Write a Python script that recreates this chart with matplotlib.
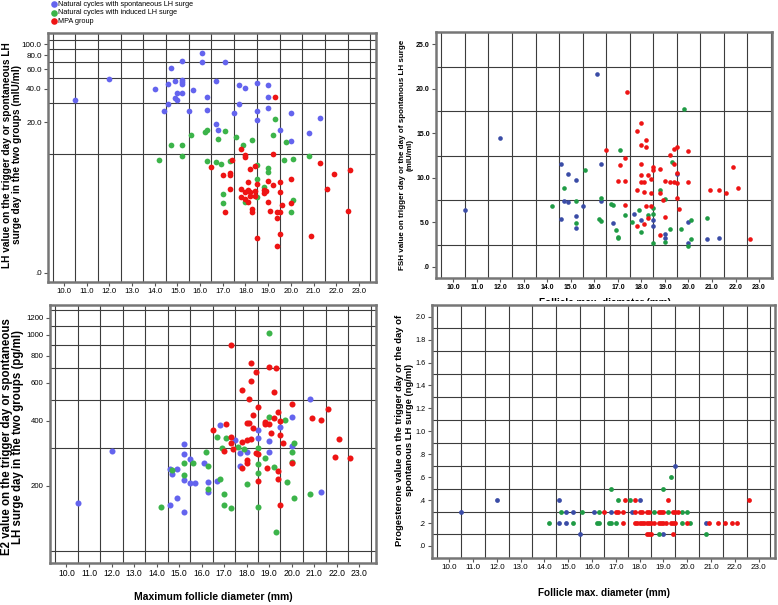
import numpy as np
import matplotlib
matplotlib.use("Agg")
import matplotlib.pyplot as plt
from matplotlib.patches import Rectangle
from matplotlib.ticker import NullFormatter

plt.rcParams['font.family'] = ['Liberation Sans', 'DejaVu Sans']

# ---- data ----
GROUPS = ["Natural cycles with spontaneous LH surge",
          "Natural cycles with induced LH surge",
          "MPA group"]

# LH (mIU/ml)
lh_blue_x = [10.5, 12.0, 14.0, 14.4, 14.6, 14.6, 14.7, 14.9, 14.9, 15.0, 15.0, 15.2, 15.2, 15.2, 15.2, 15.2, 15.5,
             15.7, 16.1, 16.1, 16.3, 16.3, 16.7, 16.7, 16.8, 17.1, 17.5, 17.7, 17.7, 18.0, 18.5, 18.5, 18.5, 19.0,
             19.0, 19.0, 19.5, 20.0, 20.0, 20.8, 21.3]
lh_blue_y = [32, 49, 40, 25, 44, 29, 62, 47, 33, 32, 37, 37, 44, 46, 48, 71, 25, 39, 84, 70, 34, 26, 47, 19, 17,
             69, 24, 43, 29, 41, 45, 25, 21, 43, 34, 27, 17, 24, 13.4, 15.8, 22]
lh_green_x = [14.7, 15.2, 15.6, 16.2, 16.3, 16.8, 17.1, 17.6, 17.9, 18.3, 19.3, 19.2, 19.8, 15.2, 14.2, 20.8, 16.3,
              16.7, 16.9, 17.3, 19.7, 20.1, 19.0, 19.0, 18.5, 18.8, 18.5, 17.0, 17.0, 18.0, 20.0, 20.1, 18.5]
lh_green_y = [12.1, 12.1, 15.1, 16.1, 16.9, 13.8, 16.5, 14.6, 12.1, 13.6, 21.3, 15.3, 13.0, 9.6, 8.7, 9.6, 8.5,
              8.4, 7.9, 8.5, 8.8, 8.9, 7.3, 6.6, 5.7, 4.6, 3.6, 3.9, 3.1, 3.2, 2.4, 3.3, 7.8]
lh_red_x = [19.3, 17.8, 18.0, 18.0, 17.4, 16.5, 19.2, 21.3, 22.6, 21.9, 18.2, 18.4, 17.3, 17.3, 17.0, 20.0, 19.0,
            19.5, 18.1, 18.5, 19.2, 17.3, 17.8, 18.0, 18.1, 18.2, 18.4, 18.8, 18.9, 19.5, 21.6, 17.8, 18.0, 18.2,
            18.4, 18.8, 18.1, 19.0, 20.0, 19.6, 18.3, 18.3, 19.1, 19.5, 19.4, 19.4, 17.1, 22.5, 20.9, 18.5, 19.5, 19.4]
lh_red_y = [33.6, 11.2, 9.8, 9.3, 8.7, 7.5, 10.1, 8.1, 6.9, 6.3, 7.2, 7.7, 6.5, 6.2, 6.2, 5.7, 5.4, 5.3, 5.2,
            5.0, 4.9, 4.4, 4.4, 4.1, 4.3, 4.1, 4.2, 4.3, 4.2, 4.1, 4.4, 3.6, 3.4, 3.7, 3.7, 4.0, 3.2, 3.2, 3.1,
            2.9, 2.6, 2.4, 2.5, 2.4, 2.4, 2.0, 2.4, 2.5, 1.1, 1.0, 1.2, 0.7]

# FSH (mIU/ml)
fsh_blue_x = [16.1, 12.0, 14.6, 16.3, 14.9, 15.2, 19.5, 14.6, 14.7, 14.9, 15.5, 15.2, 15.2, 16.3, 16.8, 17.7,
              18.0, 18.5, 18.5, 19.0, 19.0, 20.0, 20.0, 20.8, 21.3, 10.5]
fsh_blue_y = [21.7, 14.5, 11.6, 11.6, 10.5, 9.8, 10.4, 5.4, 7.4, 7.3, 6.8, 5.7, 4.4, 7.4, 4.9, 5.9, 5.3, 5.3,
              4.6, 3.7, 3.3, 5.1, 2.7, 3.1, 3.3, 6.4]
fsh_green_x = [17.1, 19.8, 15.6, 14.7, 18.8, 19.3, 14.2, 15.2, 15.2, 16.2, 16.3, 16.3, 16.7, 16.8, 16.9, 17.0,
               17.0, 17.3, 17.6, 17.9, 18.0, 18.3, 18.5, 18.5, 18.5, 19.0, 19.0, 19.2, 19.7, 20.1, 20.1, 20.0, 20.8]
fsh_green_y = [13.1, 17.8, 10.9, 8.9, 8.7, 11.8, 6.8, 7.4, 4.9, 5.4, 5.2, 7.8, 7.1, 7.0, 4.2, 3.4, 3.2, 5.8,
               5.1, 6.4, 3.9, 5.8, 6.0, 6.6, 2.7, 2.8, 7.6, 4.3, 4.3, 5.3, 3.1, 2.4, 5.5]
fsh_red_x = [17.4, 17.8, 18.0, 18.0, 18.2, 18.2, 16.5, 19.4, 19.5, 20.0, 17.1, 17.3, 17.0, 17.3, 18.0, 18.0, 18.1,
             18.0, 17.8, 18.1, 18.3, 18.4, 18.5, 18.5, 18.4, 18.8, 18.8, 19.2, 19.4, 19.0, 19.2, 19.4, 19.5, 19.5,
             20.0, 18.9, 19.5, 19.6, 19.0, 20.9, 21.3, 21.6, 21.9, 22.1, 22.6, 17.3, 17.8, 18.1, 18.2, 18.4, 18.3, 18.8]
fsh_red_y = [19.7, 15.3, 16.2, 13.7, 13.5, 14.3, 13.1, 13.2, 13.5, 13.0, 11.5, 12.2, 9.7, 9.7, 11.6, 10.3, 9.6,
             9.6, 8.6, 8.4, 10.3, 9.9, 11.2, 10.9, 8.3, 11.0, 8.3, 12.6, 11.6, 9.7, 9.5, 9.5, 9.4, 10.6, 9.5, 7.5,
             7.8, 6.5, 5.6, 8.6, 8.6, 8.3, 11.2, 8.9, 3.1, 7.0, 4.6, 4.8, 6.8, 6.8, 5.5, 3.6]

# E2 (pg/ml)
e2_blue_x = [20.8, 20.0, 16.8, 18.5, 19.5, 17.5, 18.5, 19.0, 20.0, 15.2, 18.0, 17.7, 19.0, 12.0, 15.2, 15.5, 10.5,
             16.1, 14.6, 14.7, 14.9, 15.2, 15.5, 15.7, 16.3, 16.3, 16.7, 14.9, 14.6, 15.2, 17.7, 21.3]
e2_blue_y = [502, 418, 382, 362, 372, 326, 331, 323, 306, 311, 285, 282, 287, 290, 279, 266, 167, 255, 240, 226,
             238, 212, 205, 205, 209, 186, 210, 175, 163, 151, 248, 187]
e2_green_x = [19.0, 19.0, 19.7, 16.7, 17.1, 20.1, 16.9, 17.6, 17.9, 18.5, 18.8, 20.0, 16.2, 15.2, 15.6, 16.3,
              14.7, 15.2, 16.3, 16.8, 17.0, 17.0, 17.3, 14.2, 18.0, 18.5, 18.5, 18.5, 19.2, 19.8, 19.3, 20.0, 20.8, 20.1]
e2_green_y = [1023, 416, 404, 335, 332, 314, 300, 302, 296, 300, 270, 285, 285, 255, 255, 247, 236, 224, 194, 215,
              184, 163, 157, 160, 203, 251, 230, 159, 245, 209, 122, 258, 184, 175]
e2_red_x = [17.3, 18.2, 19.0, 19.3, 18.4, 18.2, 17.8, 19.2, 18.1, 20.0, 18.5, 21.6, 19.4, 18.3, 19.2, 20.9, 21.3,
            19.5, 18.0, 18.1, 18.8, 19.0, 18.8, 17.1, 16.5, 18.3, 19.1, 19.5, 17.3, 17.8, 18.0, 18.2, 19.6, 22.1,
            17.3, 17.0, 17.4, 18.4, 18.5, 21.9, 22.6, 18.0, 18.0, 17.8, 18.5, 18.9, 19.4, 19.4, 19.5, 20.0]
e2_red_y = [894, 743, 712, 699, 674, 613, 555, 545, 502, 476, 465, 452, 437, 425, 413, 410, 403, 399, 389, 392,
            396, 386, 386, 384, 361, 371, 349, 343, 335, 317, 326, 329, 314, 329, 314, 290, 296, 282, 280, 272,
            270, 263, 256, 241, 210, 242, 235, 215, 163, 256]

# Progesterone (ng/ml)
p4_blue_x = [10.5, 14.9, 15.2, 16.1, 16.8, 17.7, 12.0, 14.6, 18.0, 14.6, 14.9, 20.8, 15.5, 19.0, 19.5]
p4_blue_y = [0.3, 0.3, 0.3, 0.3, 0.3, 0.3, 0.4, 0.4, 0.4, 0.2, 0.2, 0.2, 0.1, 0.1, 0.7]
p4_green_x = [14.2, 15.2, 16.2, 16.3, 16.7, 16.8, 17.0, 19.8, 20.1, 14.7, 15.6, 16.3, 18.6, 19.2, 19.8, 20.0,
              17.1, 17.6, 16.8, 19.0, 19.3, 18.8, 20.8]
p4_green_y = [0.2, 0.2, 0.2, 0.2, 0.2, 0.2, 0.2, 0.2, 0.2, 0.3, 0.3, 0.3, 0.3, 0.3, 0.3, 0.3,
              0.4, 0.4, 0.5, 0.5, 0.6, 0.1, 0.1]
p4_red_x = [16.5, 17.0, 17.1, 17.3, 17.8, 18.0, 18.1, 18.3, 18.4, 18.8, 18.9, 19.0, 19.4, 19.5, 19.6,
            17.3, 17.8, 17.9, 18.0, 18.1, 18.2, 18.3, 18.4, 18.5, 18.6, 18.8, 18.9, 19.0, 19.1, 19.3, 19.4, 19.5,
            20.0, 20.9, 21.3, 21.6, 21.9, 22.1,
            17.4, 17.8, 19.2, 22.6,
            18.3, 18.4, 18.5, 19.4]
p4_red_y = [0.3, 0.3, 0.3, 0.3, 0.3, 0.3, 0.3, 0.3, 0.3, 0.3, 0.3, 0.3, 0.3, 0.3, 0.3,
            0.2, 0.2, 0.2, 0.2, 0.2, 0.2, 0.2, 0.2, 0.2, 0.2, 0.2, 0.2, 0.2, 0.2, 0.2, 0.2, 0.2,
            0.2, 0.2, 0.2, 0.2, 0.2, 0.2,
            0.4, 0.4, 0.4, 0.4,
            0.1, 0.1, 0.1, 0.1]

X_TICKS = [10.0, 11.0, 12.0, 13.0, 14.0, 15.0, 16.0, 17.0, 18.0, 19.0, 20.0, 21.0, 22.0, 23.0]

# colours: SPSS default markers, the right-hand panels render a darker blue
BLUE_L, BLUE_D = "#6464ee", "#3a4ca6"
GREEN_L, GREEN_D = "#3cb44a", "#1f9b45"
RED = "#ee1414"

W, H = 778, 605


def box(l, t, r, b):
    # pixel box -> figure fraction
    return [l / W, 1 - b / H, (r - l) / W, (b - t) / H]


def style(ax, xlim, ylim, yticks, ylabels, ygrid, fs=5.0, xfs=5.0, bold=False):
    ax.set_xlim(*xlim)
    ax.set_ylim(*ylim)
    fw = "bold" if bold else "normal"
    ax.set_xticks(X_TICKS, [f"{v:.1f}" for v in X_TICKS], fontsize=xfs, fontweight=fw)
    ax.set_xticks(np.arange(9.5, 24.0, 1.0), minor=True)
    ax.set_yticks(yticks, ylabels, fontsize=fs, fontweight=fw)
    ax.set_yticks(ygrid, minor=True)
    ax.yaxis.set_minor_formatter(NullFormatter())
    ax.set_axisbelow(True)
    ax.grid(which="minor", color="#3c3c3c", lw=0.8)
    ax.tick_params(which="minor", length=0)
    ax.tick_params(which="major", length=3, width=0.8, color="#555555", pad=1.5)
    for s in ax.spines.values():
        s.set_color("#767676")
        s.set_linewidth(1.8)


def safe_log(v):
    v = np.asarray(v, dtype=float)
    return np.sign(v) * np.log10(1 + np.abs(v))


def safe_log_inv(v):
    v = np.asarray(v, dtype=float)
    return np.sign(v) * (10 ** np.abs(v) - 1)


fig = plt.figure(figsize=(W / 100, H / 100), dpi=100)

# (1) LH
ax1 = fig.add_axes(box(48, 33, 376, 282))
ax1.set_yscale("function", functions=(safe_log, safe_log_inv))
s1 = ax1.scatter(lh_blue_x, lh_blue_y, s=17, c=BLUE_L, lw=0, label=GROUPS[0], zorder=3)
s2 = ax1.scatter(lh_green_x, lh_green_y, s=17, c=GREEN_L, lw=0, label=GROUPS[1], zorder=3)
s3 = ax1.scatter(lh_red_x, lh_red_y, s=17, c=RED, lw=0, label=GROUPS[2], zorder=3)
style(ax1, (9.3, 23.75), (-0.21, 126),
      [0, 20, 40, 60, 80, 100], [".0", "20.0", "40.0", "60.0", "80.0", "100.0"],
      [10, 30, 50, 70, 90, 110], fs=5.8, xfs=5.6)

# (2) FSH
ax2 = fig.add_axes(box(436, 32, 772, 278))
ax2.scatter(fsh_blue_x, fsh_blue_y, s=11, c=BLUE_D, lw=0, zorder=3)
ax2.scatter(fsh_green_x, fsh_green_y, s=11, c=GREEN_D, lw=0, zorder=3)
ax2.scatter(fsh_red_x, fsh_red_y, s=11, c=RED, lw=0, zorder=3)
style(ax2, (9.27, 23.55), (-1.24, 26.4),
      [0, 5, 10, 15, 20, 25], [".0", "5.0", "10.0", "15.0", "20.0", "25.0"],
      [2.5, 7.5, 12.5, 17.5, 22.5], fs=5.0, xfs=5.0, bold=True)
# x label of the FSH panel: only its top sliver shows above the progesterone panel
ax2.set_xlabel("Follicle max. diameter (mm)", fontsize=7.2, fontweight="bold")
ax2.xaxis.set_label_coords((605 - 436) / 336, (278 - 298.5) / 246)

# (3) E2
ax3 = fig.add_axes(box(50, 305, 376, 563))
ax3.set_yscale("log")
ax3.scatter(e2_blue_x, e2_blue_y, s=19, c=BLUE_L, lw=0, zorder=3)
ax3.scatter(e2_green_x, e2_green_y, s=19, c=GREEN_L, lw=0, zorder=3)
ax3.scatter(e2_red_x, e2_red_y, s=19, c=RED, lw=0, zorder=3)
style(ax3, (9.27, 23.74), (87.7, 1373),
      [200, 400, 600, 800, 1000, 1200], ["200", "400", "600", "800", "1000", "1200"],
      [100, 300, 500, 700, 900, 1100, 1300], fs=5.6, xfs=6.2)
ax3.set_xlabel("Maximum follicle diameter (mm)", fontsize=7.5, fontweight="bold", labelpad=10)

# (4) Progesterone
ax4 = fig.add_axes(box(432, 305, 775, 558))
ax4.scatter(p4_blue_x, p4_blue_y, s=12, c=BLUE_D, lw=0, zorder=3)
ax4.scatter(p4_green_x, p4_green_y, s=12, c=GREEN_D, lw=0, zorder=3)
ax4.scatter(p4_red_x, p4_red_y, s=12, c=RED, lw=0, zorder=3)
p_ticks = [0.0, 0.2, 0.4, 0.6, 0.8, 1.0, 1.2, 1.4, 1.6, 1.8, 2.0]
style(ax4, (9.28, 23.69), (-0.105, 2.102),
      p_ticks, [".0", ".2", ".4", ".6", ".8", "1.0", "1.2", "1.4", "1.6", "1.8", "2.0"],
      np.arange(0.1, 2.0, 0.2), fs=5.2, xfs=5.8)
ax4.set_xlabel("Follicle max. diameter (mm)", fontsize=7.2, fontweight="bold", labelpad=12)
# white band just above this panel that hides the lower part of the FSH x label
ax4.add_patch(Rectangle((-0.02, 1.0), 1.04, 4.0 / 253, transform=ax4.transAxes, clip_on=False,
                        fc="white", ec="none", zorder=0))

# y labels
fig.text(12.5 / W, 1 - 155 / H,
         "LH value on the trigger day or spontaneous LH\nsurge day in the two groups (mIU/ml)",
         rotation=90, ha="center", va="center", fontsize=7.3, fontweight="bold", linespacing=1.0)
fig.text(406.5 / W, 1 - 155 / H,
         "FSH value on trigger day or the day of spontanous LH surge\n(mIU/ml)",
         rotation=90, ha="center", va="center", fontsize=5.8, fontweight="bold", linespacing=1.0)
fig.text(12.5 / W, 1 - 437 / H,
         "E2 value on the trigger day or spontaneous\nLH surge day in the two groups (pg/ml)",
         rotation=90, ha="center", va="center", fontsize=8.3, fontweight="bold", linespacing=0.95)
fig.text(404.5 / W, 1 - 430 / H,
         "Progesterone value on the trigger day or the day of\nspontanous LH surge (ng/ml)",
         rotation=90, ha="center", va="center", fontsize=6.8, fontweight="bold", linespacing=1.0)

# legend at the very top left
fig.legend(handles=[s1, s2, s3], labels=GROUPS, loc="upper left",
           bbox_to_anchor=(51 / W, 1 - 0.5 / H), frameon=False, fontsize=5.2,
           handlelength=0.8, handletextpad=0.15, labelspacing=0.25, borderpad=0,
           borderaxespad=0, markerscale=1.15)

fig.savefig("out.png", dpi=100)
